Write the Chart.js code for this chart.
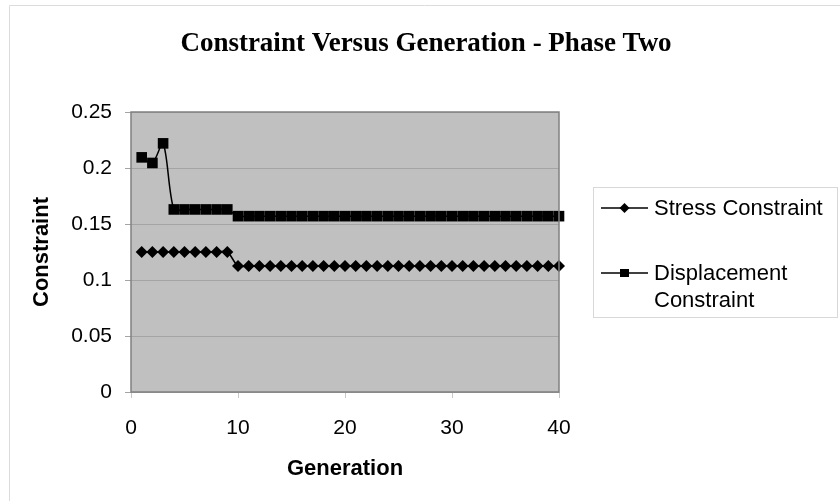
<!DOCTYPE html>
<html>
<head>
<meta charset="utf-8">
<script src="https://cdn.jsdelivr.net/npm/chart.js@4/dist/chart.umd.min.js"></script>
<style>
  html, body { margin: 0; padding: 0; background: #fff; }
  #wrap { width: 840px; height: 501px; position: relative; }
</style>
</head>
<body>
<div id="wrap"><canvas id="chart" width="840" height="501"></canvas></div>
<script>
// Data
const generations = [1,2,3,4,5,6,7,8,9,10,11,12,13,14,15,16,17,18,19,20,
                     21,22,23,24,25,26,27,28,29,30,31,32,33,34,35,36,37,38,39,40];
const stressConstraint = [0.125,0.125,0.125,0.125,0.125,0.125,0.125,0.125,0.125,
                          0.1125,0.1125,0.1125,0.1125,0.1125,0.1125,0.1125,0.1125,0.1125,0.1125,0.1125,
                          0.1125,0.1125,0.1125,0.1125,0.1125,0.1125,0.1125,0.1125,0.1125,0.1125,
                          0.1125,0.1125,0.1125,0.1125,0.1125,0.1125,0.1125,0.1125,0.1125,0.1125];
const displacementConstraint = [0.2095,0.2045,0.222,0.163,0.163,0.163,0.163,0.163,0.163,
                                0.157,0.157,0.157,0.157,0.157,0.157,0.157,0.157,0.157,0.157,0.157,
                                0.157,0.157,0.157,0.157,0.157,0.157,0.157,0.157,0.157,0.157,
                                0.157,0.157,0.157,0.157,0.157,0.157,0.157,0.157,0.157,0.157];
const xTicks = [0, 10, 20, 30, 40];
const yTicks = [0, 0.05, 0.1, 0.15, 0.2, 0.25];
const seriesNames = ['Stress Constraint', 'Displacement Constraint'];

const toPoints = (xs, ys) => xs.map((x, i) => ({ x: x, y: ys[i] }));
const SANS = '"Liberation Sans", Arial, sans-serif';

// gray plot background, plot border, outer frame, title and legend box
const decor = {
    id: 'decor',
    beforeDraw(chart) {
        const ctx = chart.ctx, a = chart.chartArea;
        ctx.save();
        ctx.fillStyle = '#c0c0c0';
        ctx.fillRect(a.left, a.top, a.right - a.left, a.bottom - a.top);
        ctx.restore();
    },
    afterDraw(chart) {
        const ctx = chart.ctx, a = chart.chartArea;
        ctx.save();
        // plot border
        ctx.strokeStyle = '#808080';
        ctx.lineWidth = 1.5;
        ctx.strokeRect(a.left, a.top, a.right - a.left, a.bottom - a.top);
        // outer frame (top and left only visible)
        ctx.strokeStyle = '#dcdcdc';
        ctx.lineWidth = 1;
        ctx.beginPath();
        ctx.moveTo(9.5, 501);
        ctx.lineTo(9.5, 5.5);
        ctx.lineTo(840, 5.5);
        ctx.stroke();
        // title
        ctx.fillStyle = '#000';
        ctx.font = 'bold 27px "Liberation Serif", "Times New Roman", serif';
        ctx.textAlign = 'center';
        ctx.textBaseline = 'middle';
        ctx.fillText('Constraint Versus Generation - Phase Two', 426, 44);
        // legend
        ctx.strokeStyle = '#d8d8d8';
        ctx.lineWidth = 1;
        ctx.strokeRect(593.5, 187.5, 244, 130);
        ctx.font = '22px ' + SANS;
        ctx.textAlign = 'left';
        const rows = [
            { y: 208, lines: ['Stress Constraint'], style: 'diamond' },
            { y: 273, lines: ['Displacement', 'Constraint'], style: 'square' }
        ];
        rows.forEach(r => {
            ctx.strokeStyle = '#000';
            ctx.lineWidth = 1.5;
            ctx.beginPath();
            ctx.moveTo(601, r.y);
            ctx.lineTo(648, r.y);
            ctx.stroke();
            ctx.fillStyle = '#000';
            ctx.beginPath();
            if (r.style === 'diamond') {
                ctx.moveTo(624.5, r.y - 5);
                ctx.lineTo(629.5, r.y);
                ctx.lineTo(624.5, r.y + 5);
                ctx.lineTo(619.5, r.y);
                ctx.closePath();
            } else {
                ctx.rect(620, r.y - 4, 9, 8);
            }
            ctx.fill();
            r.lines.forEach((t, i) => ctx.fillText(t, 654, r.y + 1 + i * 27));
        });
        ctx.restore();
    }
};

new Chart(document.getElementById('chart'), {
    type: 'line',
    data: {
        datasets: [{
            label: seriesNames[0],
            data: toPoints(generations, stressConstraint),
            borderColor: '#000',
            backgroundColor: '#000',
            borderWidth: 1.5,
            pointStyle: 'rectRot',
            pointRadius: 6,
            pointBorderWidth: 0,
            tension: 0.3
        }, {
            label: seriesNames[1],
            data: toPoints(generations, displacementConstraint),
            borderColor: '#000',
            backgroundColor: '#000',
            borderWidth: 1.5,
            pointStyle: 'rect',
            pointRadius: 7.5,
            pointBorderWidth: 0,
            tension: 0.3
        }]
    },
    options: {
        responsive: false,
        animation: false,
        clip: false,
        layout: { padding: { left: 29, right: 281, top: 112, bottom: 16 } },
        plugins: {
            legend: { display: false },
            title: { display: false },
            tooltip: { enabled: false }
        },
        scales: {
            x: {
                type: 'linear',
                min: 0,
                max: 40,
                afterFit: s => { s.height = 93; },
                afterBuildTicks: s => { s.ticks = xTicks.map(v => ({ value: v })); },
                grid: { drawOnChartArea: false, drawTicks: true, tickLength: 6, color: '#c8c8c8' },
                border: { display: false },
                ticks: {
                    color: '#000',
                    padding: 18,
                    font: { family: SANS, size: 21 }
                },
                title: {
                    display: true,
                    text: 'Generation',
                    color: '#000',
                    font: { family: SANS, size: 22, weight: 'bold' },
                    padding: { top: 0, bottom: 3 }
                }
            },
            y: {
                min: 0,
                max: 0.25,
                afterFit: s => { s.width = 102; },
                afterBuildTicks: s => { s.ticks = yTicks.map(v => ({ value: v })); },
                grid: { color: '#a4a4a4', tickLength: 6, lineWidth: 1 },
                border: { display: false },
                ticks: {
                    color: '#000',
                    padding: 13,
                    font: { family: SANS, size: 21 },
                    callback: v => String(Math.round(v * 100) / 100)
                },
                title: {
                    display: true,
                    text: 'Constraint',
                    color: '#000',
                    font: { family: SANS, size: 22, weight: 'bold' },
                    padding: { top: 0, bottom: 0 }
                }
            }
        }
    },
    plugins: [decor]
});
</script>
</body>
</html>
